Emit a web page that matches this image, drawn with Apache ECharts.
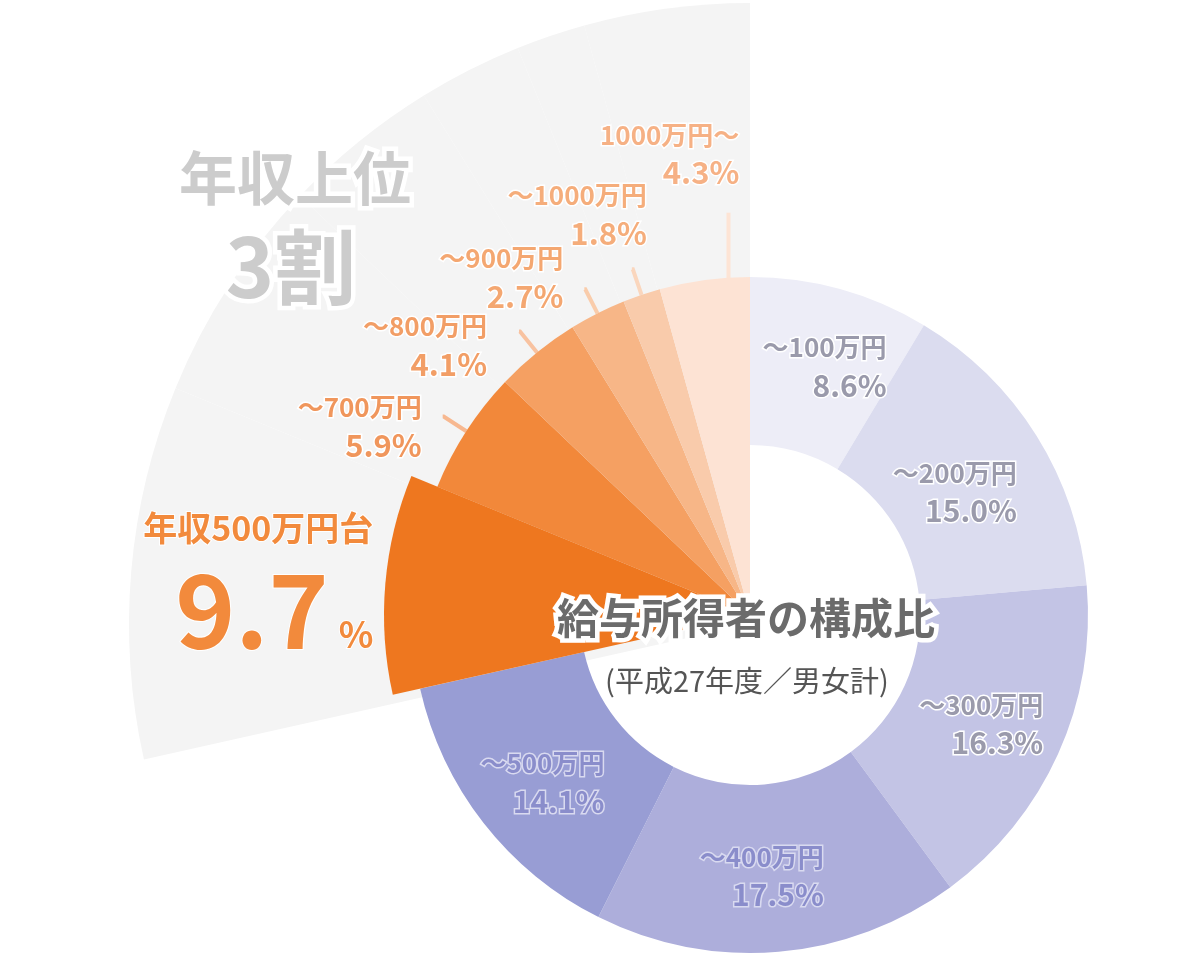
<!DOCTYPE html>
<html>
<head>
<meta charset="utf-8">
<script src="https://cdn.jsdelivr.net/npm/echarts@6/dist/echarts.min.js"></script>
<style>
html,body{margin:0;padding:0;background:#ffffff;}
#chart{width:1200px;height:961px;}
</style>
</head>
<body>
<div id="chart"></div>
<script>
// ---------- data ----------
const categories = ['～100万円','～200万円','～300万円','～400万円','～500万円','年収500万円台','～700万円','～800万円','～900万円','～1000万円','1000万円～'];
const shares = [8.6, 15.0, 16.3, 17.5, 14.1, 9.7, 5.9, 4.1, 2.7, 1.8, 4.3];
const upperGroup = [false, false, false, false, false, true, true, true, true, true, true];
const highlightIndex = 5;
const titleText = '給与所得者の構成比';
const subtitleText = '(平成27年度／男女計)';
const groupTitle = '年収上位';
const groupShare = '3割';

// ---------- styles ----------
const FONT = "'Noto Sans CJK JP', 'Noto Sans', sans-serif";
const CENTER = [750, 615];
const BG_CENTER = [750, 624];
const sliceColors = ['#ededf7','#dbdcef','#c3c4e5','#adaedb','#989dd4','#ee771f','#f2883a','#f5a062','#f7b687','#f9cbab','#fde3d4'];
const labelColors = ['#9a9aab','#9a9aab','#9a9aab','#8a8dcb','#8a8dcb','#f28a3c','#f0965c','#f29e66','#f4a771','#f5ad7b','#f6b185'];
const labelBorders = ['#ffffff','#ffffff','#ffffff','#d9daf0','#d9daf0','#ffffff','#ffffff','#ffffff','#ffffff','#ffffff','#ffffff'];
const lineColors = ['','','','','','','#f7b890','#f8c2a0','#f9ccab','#fad6bd','#fde4d5'];
const lineLengths = [0,0,0,0,0,0,27,27,27,27,68];
const verticalLineShift = [null,null,null,null,null,null,null,null,null,null,24];
const nudges = [[6,0],[-13,14],[-3,4],[-10,6],[-5,10],[-8,6],[-22,11],[-33,15],[-22,-11],[14,-54],[44,-58]];
const TRANSPARENT = 'rgba(0,0,0,0)';

function fmt(p) {
  return '{n|' + p.name + '}\n{v|' + p.value.toFixed(1) + '%}';
}

const ringRich = {
  n: {fontSize: 26, lineHeight: 36, fontWeight: 'bold', fontFamily: FONT, align: 'right'},
  v: {fontSize: 30, lineHeight: 40, fontWeight: 'bold', fontFamily: FONT, align: 'right'}
};
const outRich = {
  n: {fontSize: 26, lineHeight: 35, fontWeight: 'bold', fontFamily: FONT, align: 'right'},
  v: {fontSize: 31, lineHeight: 40, fontWeight: 'bold', fontFamily: FONT, align: 'right'}
};
const bigRich = {
  n: {fontSize: 34, lineHeight: 44, fontWeight: 'bold', fontFamily: FONT, align: 'right'},
  b: {fontSize: 102, lineHeight: 120, fontWeight: 'bold', fontFamily: FONT, align: 'right', verticalAlign: 'middle'},
  c: {fontSize: 36, lineHeight: 36, fontWeight: 'bold', fontFamily: FONT, align: 'right', verticalAlign: 'middle', padding: [48, 0, 0, 10]}
};

// background sector for the upper group
const bgData = categories.map((n, i) => ({
  name: n, value: shares[i],
  itemStyle: {color: upperGroup[i] ? '#f4f4f4' : TRANSPARENT}
}));

// ring (lower group)
const ringData = categories.map((n, i) => upperGroup[i]
  ? {name: n, value: shares[i], itemStyle: {color: TRANSPARENT}, label: {show: false}}
  : {name: n, value: shares[i], itemStyle: {color: sliceColors[i]},
     label: {show: true, color: labelColors[i], textBorderColor: labelBorders[i], textBorderWidth: 3}});

// upper group wedges (except highlight)
const wedgeData = categories.map((n, i) => (!upperGroup[i] || i === highlightIndex)
  ? {name: n, value: shares[i], itemStyle: {color: TRANSPARENT}, label: {show: false}, labelLine: {show: false}}
  : {name: n, value: shares[i], itemStyle: {color: sliceColors[i]},
     label: {show: true, color: labelColors[i], textBorderColor: labelBorders[i], textBorderWidth: 3},
     labelLine: {show: true, length: lineLengths[i], length2: 1, lineStyle: {color: lineColors[i], width: 4}}});

// highlighted wedge
const hiData = categories.map((n, i) => i !== highlightIndex
  ? {name: n, value: shares[i], itemStyle: {color: TRANSPARENT}, label: {show: false}, labelLine: {show: false}}
  : {name: n, value: shares[i], itemStyle: {color: sliceColors[i]},
     label: {show: true, color: labelColors[i], textBorderColor: labelBorders[i], textBorderWidth: 2,
       formatter: p => '{n|' + p.name + '}\n{b|' + p.value.toFixed(1) + '}{c|%}', rich: bigRich},
     labelLine: {show: false, length: 0, length2: 0}});

const base = {type: 'pie', center: CENTER, startAngle: 90, clockwise: true, silent: true,
  avoidLabelOverlap: false, emphasis: {disabled: true}, animation: false,
  itemStyle: {borderWidth: 0}};

function outlinedText(text, x, y, size, weight, fill, strokeW) {
  const common = {text: text, fontSize: size, fontWeight: weight, fontFamily: FONT, align: 'center', verticalAlign: 'middle'};
  const items = [];
  if (strokeW) {
    items.push({type: 'text', z: 100, x: x, y: y, silent: true,
      style: Object.assign({}, common, {fill: '#ffffff', stroke: '#ffffff', lineWidth: strokeW, lineJoin: 'round'})});
  }
  items.push({type: 'text', z: 101, x: x, y: y, silent: true, style: Object.assign({}, common, {fill: fill})});
  return items;
}

const option = {
  animation: false,
  series: [
    Object.assign({}, base, {name: 'bg', center: BG_CENTER, radius: [0, 621], z: 1, label: {show: false}, labelLine: {show: false}, data: bgData}),
    Object.assign({}, base, {name: 'ring', radius: [170, 338], z: 2,
      label: {show: true, position: 'inside', formatter: fmt, rich: ringRich},
      labelLine: {show: false},
      labelLayout: function (p) {
        const r = p.labelRect, d = nudges[p.dataIndex];
        return {x: r.x + r.width / 2 + d[0], y: r.y + r.height / 2 + d[1], align: 'center', verticalAlign: 'middle'};
      },
      data: ringData}),
    Object.assign({}, base, {name: 'upper', radius: [0, 338], z: 3,
      label: {show: true, position: 'outside', formatter: fmt, rich: outRich, distanceToLabelLine: 0},
      labelLine: {show: true, length: 27, length2: 1},
      labelLayout: function (p) {
        const i = p.dataIndex, d = nudges[i];
        const pts = p.labelLinePoints;
        if (!pts) { return {}; }
        const end = pts[1];
        const sh = verticalLineShift[i];
        const line = sh == null ? pts : pts.map(q => [pts[0][0] + sh, q[1]]);
        return {x: end[0] + d[0], y: end[1] + d[1], align: 'right', verticalAlign: 'middle', labelLinePoints: line};
      },
      data: wedgeData}),
    Object.assign({}, base, {name: 'highlight', radius: [0, 366], z: 4,
      label: {show: true, position: 'outside', distanceToLabelLine: 5},
      labelLayout: function (p) {
        const r = p.labelRect, d = nudges[p.dataIndex];
        return {x: r.x + r.width + d[0], y: r.y + r.height / 2 + d[1], align: 'right', verticalAlign: 'middle'};
      },
      data: hiData})
  ],
  graphic: [].concat(
    outlinedText(titleText, 746, 618, 42, 'bold', '#6b6b6b', 9),
    outlinedText(subtitleText, 747, 681, 29, 'normal', '#555555', 0),
    outlinedText(groupTitle, 295, 178, 58, 'bold', '#cccccc', 9),
    outlinedText(groupShare, 291, 267, 82, 'bold', '#cccccc', 9)
  )
};

const chart = echarts.init(document.getElementById('chart'), null, {renderer: 'canvas'});
chart.setOption(option);
</script>
</body>
</html>
